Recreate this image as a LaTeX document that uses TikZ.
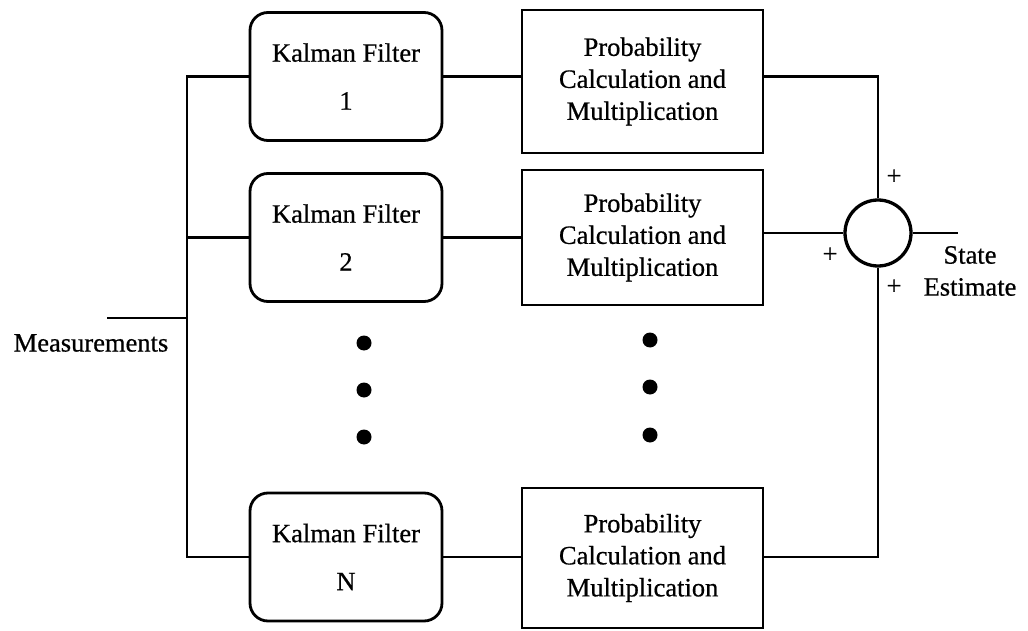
\documentclass[tikz,border=0pt]{standalone}
\usepackage{fontspec}
\setmainfont{Liberation Serif}[FakeBold=0.6]
\begin{document}
\begin{tikzpicture}[x=1pt,y=-1pt,
  every node/.style={font=\fontsize{26.5}{32}\selectfont, inner sep=0pt},
  kfbox/.style={draw, line width=2.8pt, rounded corners=18pt, minimum width=192pt,
    minimum height=128pt, align=center},
  probbox/.style={draw, line width=2.8pt, minimum width=241pt, align=center},
  wire/.style={line width=2.8pt},
  ellipsisdot/.style={circle, fill, minimum size=15pt}]
\useasboundingbox (0,0) rectangle (1028,631);

% Bank of Kalman filters
\node[kfbox] (kf1) at (346,76.5) {Kalman Filter\\[16pt]1};
\node[kfbox] (kf2) at (346,237.5) {Kalman Filter\\[16pt]2};
\node[kfbox] (kfN) at (346,557) {Kalman Filter\\[16pt]N};

% Probability weighting blocks
\node[probbox, minimum height=143pt] (p1) at (642.5,81.5)
  {Probability\\Calculation and\\Multiplication};
\node[probbox, minimum height=135pt] (p2) at (642.5,237.5)
  {Probability\\Calculation and\\Multiplication};
\node[probbox, minimum height=140pt] (pN) at (642.5,558)
  {Probability\\Calculation and\\Multiplication};

% Summing junction
\node[circle, draw, line width=3.3pt, minimum size=66pt] (sum) at (878,233) {};
\node (plusT) at (894,177) {+};
\node (plusL) at (830,255) {+};
\node (plusB) at (894,287) {+};
\node[align=center] (est) at (970,271) {State\\Estimate};
\coordinate (out) at (958,233);

% Input
\coordinate (in) at (107,318);
\coordinate (bus) at (187,318);
\node (meas) at (91,343) {Measurements};

% Ellipsis dots
\node[ellipsisdot] (dk1) at (364,343) {};
\node[ellipsisdot] (dk2) at (364,390) {};
\node[ellipsisdot] (dk3) at (364,437) {};
\node[ellipsisdot] (dp1) at (650,340) {};
\node[ellipsisdot] (dp2) at (650,387) {};
\node[ellipsisdot] (dp3) at (650,435) {};

% Connections
\draw[wire] (in) -- (bus);
\draw[wire] (kf1.west) -| (bus) |- (kfN.west);
\draw[wire] (kf2.west) -- (kf2.west -| bus);
\draw[wire] (kf1.east) -- (kf1.east -| p1.west);
\draw[wire] (kf2.east) -- (kf2.east -| p2.west);
\draw[wire] (kfN.east) -- (kfN.east -| pN.west);
\draw[wire] (p1.east |- kf1.east) -| (sum.north);
\draw[wire] (p2.east |- sum.west) -- (sum.west);
\draw[wire] (pN.east |- kfN.east) -| (sum.south);
\draw[wire] (sum.east) -- (out);
\end{tikzpicture}
\end{document}
